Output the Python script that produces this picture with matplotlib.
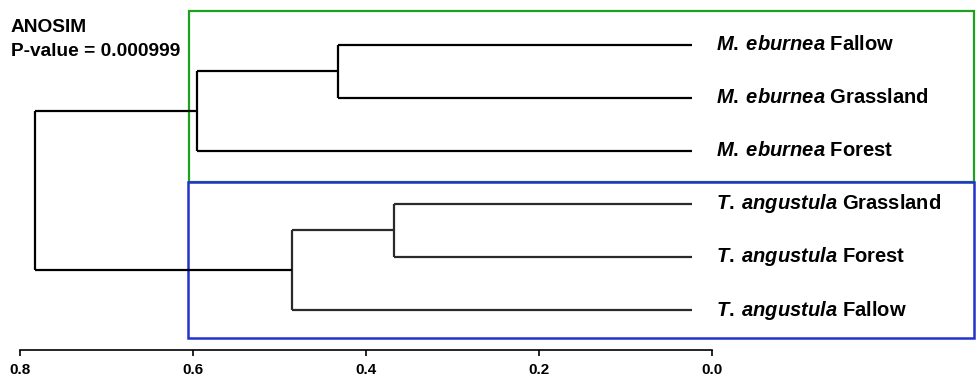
import matplotlib
matplotlib.use("Agg")
import matplotlib.pyplot as plt
from matplotlib.patches import Rectangle

plt.rcParams['font.family'] = 'Liberation Sans'
plt.rcParams['mathtext.fontset'] = 'custom'
plt.rcParams['mathtext.it'] = 'Liberation Sans:italic:bold'
plt.rcParams['mathtext.rm'] = 'Liberation Sans:bold'

# leaves, top to bottom
species = ['M. eburnea', 'M. eburnea', 'M. eburnea',
           'T. angustula', 'T. angustula', 'T. angustula']
habitat = ['Fallow', 'Grassland', 'Forest', 'Grassland', 'Forest', 'Fallow']
leaf_height = 0.023

# merges: (node a, node b, height); new nodes are numbered from 6 upward
merges = [(0, 1, 0.432),
          (3, 4, 0.368),
          (6, 2, 0.595),
          (7, 5, 0.486),
          (8, 9, 0.783)]

ticks = [0.0, 0.2, 0.4, 0.6, 0.8]
anosim_text = ['ANOSIM', 'P-value = 0.000999']

fig = plt.figure(figsize=(9.76, 3.78), dpi=100)
ax = fig.add_axes([0, 0, 1, 1])
ax.set_xlim(0.823, -0.305)
ax.set_ylim(6.283, -0.849)

# draw the tree node by node
node_y = list(range(len(species)))
node_h = [leaf_height] * len(species)
for a, b, h in merges:
    # T. angustula branches come out a bit lighter in the original
    col = '#2a2a2a' if min(node_y[a], node_y[b]) >= 3 else '#000000'
    for c in (a, b):
        ax.plot([node_h[c], h], [node_y[c], node_y[c]], color=col, lw=1.6,
                solid_capstyle='butt')
    ax.plot([h, h], [node_y[a], node_y[b]], color=col, lw=1.6,
            solid_capstyle='butt')
    node_y.append((node_y[a] + node_y[b]) / 2)
    node_h.append(h)

# leaf labels
for i in range(len(species)):
    sp = species[i].replace(' ', '\\:')
    ax.text(leaf_height - 0.028, i, '$\\mathit{' + sp + '}$ ' + habitat[i],
            ha='left', va='center', fontsize=14.5, fontweight='bold')

# cluster boxes
ax.add_patch(Rectangle((0.605, -0.64), -0.303 - 0.605, 2.585 + 0.64,
                       fill=False, edgecolor='#1fa01f', lw=1.6, clip_on=False))
ax.add_patch(Rectangle((0.606, 2.585), -0.303 - 0.606, 5.53 - 2.585,
                       fill=False, edgecolor='#2233cc', lw=1.8, clip_on=False))

# axis
for s in ['top', 'left', 'right']:
    ax.spines[s].set_visible(False)
ax.spines['bottom'].set_position(('data', 5.755))
ax.spines['bottom'].set_bounds(0, 0.8)
ax.spines['bottom'].set_linewidth(1.2)
ax.set_yticks([])
ax.set_xticks(ticks)
ax.set_xticklabels(['%.1f' % t for t in ticks], fontweight='bold', fontsize=11)
ax.tick_params(axis='x', direction='out', length=4.5, width=1.2, pad=5)

fig.text(11 / 976, 1 - 27 / 378, anosim_text[0], fontsize=13.8, fontweight='bold',
         ha='left', va='center')
fig.text(11 / 976, 1 - 52 / 378, anosim_text[1], fontsize=13.8, fontweight='bold',
         ha='left', va='center')

fig.savefig('out.png', dpi=100)
